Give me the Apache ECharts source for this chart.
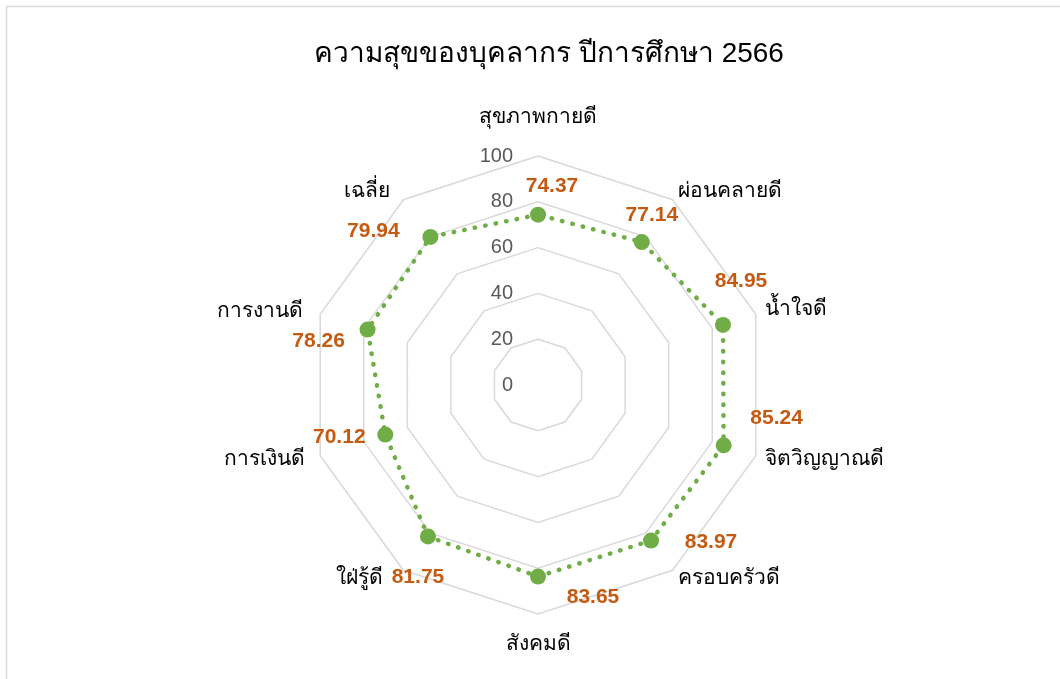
<!DOCTYPE html>
<html>
<head>
<meta charset="utf-8">
<script src="https://cdn.jsdelivr.net/npm/echarts@6/dist/echarts.min.js"></script>
<style>
  html, body { margin: 0; padding: 0; background: #fff; }
  #chart { width: 1060px; height: 679px; }
</style>
</head>
<body>
<div id="chart"></div>
<script>
// ข้อมูลจากกราฟ (เรียงตามเข็มนาฬิกาจากด้านบน)
const indicatorNames = ['สุขภาพกายดี', 'ผ่อนคลายดี', 'น้ำใจดี', 'จิตวิญญาณดี', 'ครอบครัวดี',
  'สังคมดี', 'ใฝ่รู้ดี', 'การเงินดี', 'การงานดี', 'เฉลี่ย'];
const happinessValues = [74.37, 77.14, 84.95, 85.24, 83.97, 83.65, 81.75, 70.12, 78.26, 79.94];
const axisMax = 100;

// ตำแหน่งป้ายค่าเทียบกับจุด (dx, dy)
const labelOffsets = [[14, -28], [10, -27], [18, -44], [53, -27], [60, 2],
  [55, 21], [-10, 41], [-46, 3], [-49, 12], [-57, -6]];
// ระยะเพิ่มของชื่อแกน [บน, ขวา, ล่าง, ซ้าย]
const namePads = [[0, 0, 18, 0], [0, 0, 0, 0], [0, 0, 3, 0], [0, 0, 0, 0], [0, 0, 0, 0],
  [10, 0, 0, 0], [0, 15, 0, 0], [0, 6, 0, 0], [0, 8, 0, 0], [0, 8, 0, 0]];

const FONT = "'Liberation Sans', 'Noto Sans', sans-serif";
const GREEN = '#70AD47';
const ORANGE = '#C55A11';

// ECharts วางแกนทวนเข็มนาฬิกา จึงกลับลำดับ (ยกเว้นแกนแรก)
const order = [0].concat(indicatorNames.map((_, i) => i).slice(1).reverse());

// rich style สำหรับเลื่อนป้ายด้วย padding
const valueRich = {};
labelOffsets.forEach(([dx, dy], i) => {
  valueRich['v' + i] = {
    color: ORANGE, fontSize: 21, fontWeight: 'bold', fontFamily: FONT,
    padding: [Math.max(0, 2 * dy), Math.max(0, -2 * dx), Math.max(0, -2 * dy), Math.max(0, 2 * dx)]
  };
});
const nameRich = {};
namePads.forEach((p, i) => {
  nameRich['n' + i] = { color: '#000', fontSize: 21, fontFamily: FONT, padding: p };
});

const chart = echarts.init(document.getElementById('chart'));
chart.setOption({
  animation: false,
  backgroundColor: '#fff',
  graphic: [{
    type: 'rect',
    shape: { x: 6.5, y: 6.5, width: 1100, height: 700 },
    style: { fill: 'none', stroke: '#d9d9d9', lineWidth: 1.5 },
    silent: true
  }],
  title: {
    text: 'ความสุขของบุคลากร ปีการศึกษา 2566',
    left: 544,
    top: 35,
    textAlign: 'center',
    textStyle: { fontFamily: FONT, fontSize: 28, fontWeight: 'normal', color: '#000' }
  },
  radar: {
    center: [538, 385],
    radius: 229,
    startAngle: 90,
    splitNumber: 5,
    shape: 'polygon',
    axisNameGap: 10,
    axisName: {
      color: '#000',
      fontSize: 21,
      fontFamily: FONT,
      formatter: name => `{n${indicatorNames.indexOf(name)}|${name}}`,
      rich: nameRich
    },
    axisLine: { show: false },
    axisTick: { show: false },
    axisLabel: { show: false },
    splitArea: { show: false },
    splitLine: { lineStyle: { color: '#d9d9d9', width: 1.5 } },
    indicator: order.map((i, k) => {
      const ind = { name: indicatorNames[i], min: 0, max: axisMax };
      if (k === 0) {
        ind.axisLabel = { show: true, color: '#595959', fontSize: 20, fontFamily: FONT, margin: 25 };
      }
      return ind;
    })
  },
  series: [{
    type: 'radar',
    symbol: 'circle',
    symbolSize: 16,
    itemStyle: { color: GREEN },
    lineStyle: { color: GREEN, width: 4.5, type: [0.5, 10.2], cap: 'round' },
    label: {
      show: true,
      position: 'inside',
      color: ORANGE,
      fontSize: 21,
      fontWeight: 'bold',
      fontFamily: FONT,
      formatter: p => {
        const idx = happinessValues.indexOf(p.value);
        return `{v${idx}|${p.value.toFixed(2)}}`;
      },
      rich: valueRich
    },
    data: [{
      name: 'ความสุข',
      value: order.map(i => happinessValues[i])
    }]
  }]
});
</script>
</body>
</html>
